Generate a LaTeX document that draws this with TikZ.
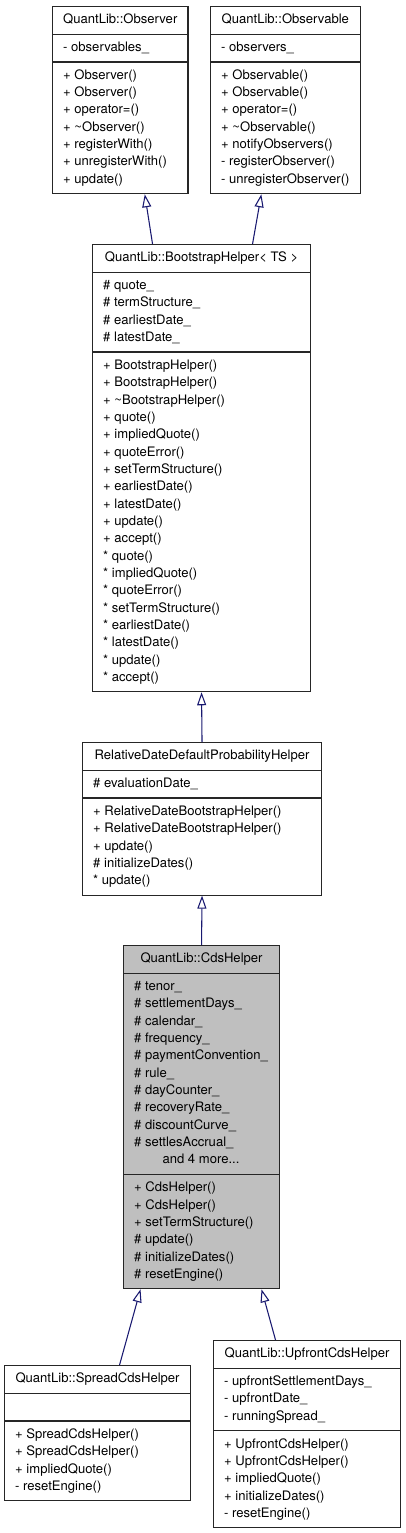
\documentclass[tikz,border=0pt]{standalone}
\usepackage{fontspec}
\setmainfont{TeX Gyre Heros}
\usetikzlibrary{shapes.multipart,arrows.meta,calc}
\definecolor{midnight}{HTML}{191970}
\newcommand{\umllines}[1]{\begin{tabular}{@{}l@{}}#1\end{tabular}}
\tikzset{
  umlclass/.style={rectangle split, rectangle split parts=3, draw=black!85,
    line width=0.8pt, fill=white, anchor=north west, inner xsep=8pt,
    inner ysep=3.5pt, rectangle split part align={center,left,left},
    font=\fontsize{9.8}{13}\selectfont},
  boxw/.style={minimum width=#1*0.75pt},
  inherit/.style={draw=midnight, line width=0.8pt,
    -{Triangle[length=9.75pt,width=6.75pt,fill=white]}},
}
\begin{document}
\begin{tikzpicture}[x=0.75pt,y=-0.75pt]
  \useasboundingbox (0,0) rectangle (405,1533);

  \node[umlclass,boxw=135] (observer) at (52,6)
    {\umllines{QuantLib::Observer}
     \nodepart{second}\umllines{- observables\_}
     \nodepart{third}\umllines{+ Observer()\\+ Observer()\\+ operator=()\\
       + \textasciitilde Observer()\\+ registerWith()\\+ unregisterWith()\\+ update()}};
  \node[umlclass,boxw=148] (observable) at (210,6)
    {\umllines{QuantLib::Observable}
     \nodepart{second}\umllines{- observers\_}
     \nodepart{third}\umllines{+ Observable()\\+ Observable()\\+ operator=()\\
       + \textasciitilde Observable()\\+ notifyObservers()\\- registerObserver()\\
       - unregisterObserver()}};

  \node[umlclass,boxw=218] (bootstrap) at (92,244)
    {\umllines{QuantLib::BootstrapHelper< TS >}
     \nodepart{second}\umllines{\# quote\_\\\# termStructure\_\\\# earliestDate\_\\\# latestDate\_}
     \nodepart{third}\umllines{+ BootstrapHelper()\\+ BootstrapHelper()\\
       + \textasciitilde BootstrapHelper()\\+ quote()\\+ impliedQuote()\\+ quoteError()\\
       + setTermStructure()\\+ earliestDate()\\+ latestDate()\\+ update()\\+ accept()\\
       {*} quote()\\{*} impliedQuote()\\{*} quoteError()\\{*} setTermStructure()\\
       {*} earliestDate()\\{*} latestDate()\\{*} update()\\{*} accept()}};

  \node[umlclass,boxw=239] (relative) at (82,742)
    {\umllines{RelativeDateDefaultProbabilityHelper}
     \nodepart{second}\umllines{\# evaluationDate\_}
     \nodepart{third}\umllines{+ RelativeDateBootstrapHelper()\\+ RelativeDateBootstrapHelper()\\
       + update()\\\# initializeDates()\\{*} update()}};

  \node[umlclass,boxw=156,fill=gray!50] (cds) at (123,945)
    {\umllines{QuantLib::CdsHelper}
     \nodepart{second}\umllines{\# tenor\_\\\# settlementDays\_\\\# calendar\_\\\# frequency\_\\
       \# paymentConvention\_\\\# rule\_\\\# dayCounter\_\\\# recoveryRate\_\\
       \# discountCurve\_\\\# settlesAccrual\_\\\multicolumn{1}{@{}c@{}}{and 4 more...}}
     \nodepart{third}\umllines{+ CdsHelper()\\+ CdsHelper()\\+ setTermStructure()\\
       \# update()\\\# initializeDates()\\\# resetEngine()}};

  \node[umlclass,boxw=186] (spread) at (4,1365)
    {\umllines{QuantLib::SpreadCdsHelper}
     \nodepart{second}\umllines{\mbox{}\strut}
     \nodepart{third}\umllines{+ SpreadCdsHelper()\\+ SpreadCdsHelper()\\+ impliedQuote()\\
       - resetEngine()}};
  \node[umlclass,boxw=187] (upfront) at (213,1340)
    {\umllines{QuantLib::UpfrontCdsHelper}
     \nodepart{second}\umllines{- upfrontSettlementDays\_\\- upfrontDate\_\\- runningSpread\_}
     \nodepart{third}\umllines{+ UpfrontCdsHelper()\\+ UpfrontCdsHelper()\\+ impliedQuote()\\
       + initializeDates()\\- resetEngine()}};

  % inheritance
  \draw[inherit] ($(bootstrap.north)+(-49,0)$) -- ($(observer.south)+(24.5,0)$);
  \draw[inherit] ($(bootstrap.north)+(51,0)$) -- ($(observable.south)+(-24,0)$);
  \draw[inherit] (relative.north) -- (bootstrap.south);
  \draw[inherit] (cds.north) -- (relative.south);
  \draw[inherit] ($(spread.north)+(22,0)$) -- ($(cds.south)+(-61,0)$);
  \draw[inherit] ($(upfront.north)+(-31.5,0)$) -- ($(cds.south)+(60,0)$);
\end{tikzpicture}
\end{document}
